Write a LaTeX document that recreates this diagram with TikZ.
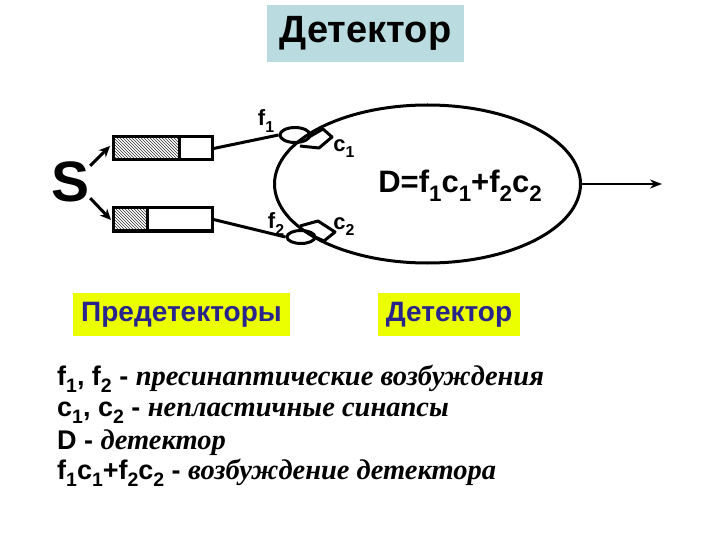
\documentclass[tikz,border=0pt]{standalone}
\usepackage{fontspec}
\usepackage{graphicx}
\setmainfont{Liberation Sans}
\newfontfamily\tmsfont{Liberation Serif}
\usetikzlibrary{patterns,arrows.meta,shapes.geometric}
\newcommand\subx[1]{\raisebox{-0.28em}{\scalebox{0.72}{#1}}}
\newcommand\itru[1]{{\tmsfont\itshape\fontsize{28.5}{30}\selectfont #1}}
\definecolor{titlebg}{RGB}{186,220,224}
\definecolor{ylw}{RGB}{236,255,0}
\definecolor{navy}{RGB}{40,36,140}
\tikzset{
  thick line/.style={line width=3pt},
  boxrect/.style={draw, line width=3pt, minimum width=99pt, minimum height=23pt, inner sep=0pt},
  synball/.style={draw, ellipse, line width=3pt, inner sep=0pt},
  sarrow/.style={line width=3pt, -{Stealth[length=11pt,width=10pt]}},
  lbl/.style={font=\bfseries\fontsize{22}{24}\selectfont, inner sep=0pt},
  tagbox/.style={fill=ylw, text=navy, font=\bfseries\fontsize{28}{30}\selectfont, inner sep=0pt},
  legend/.style={anchor=base west, inner sep=0pt, font=\bfseries\fontsize{27}{30}\selectfont},
}
\begin{document}
\begin{tikzpicture}[x=1pt,y=-1pt]
\useasboundingbox (0,0) rectangle (720,540);
% title
\node[fill=titlebg, minimum width=197pt, minimum height=57pt, inner sep=0pt,
      font=\bfseries\fontsize{38}{40}\selectfont] (title) at (365.5,33.5) {Детектор};
% S
\node[font=\bfseries\fontsize{57}{60}\selectfont, inner sep=0pt] (S) at (71,182) {S};
% predetector boxes
\fill[pattern=north west lines, pattern color=black!80] (113,137) rectangle (179,160);
\fill[pattern=north west lines, pattern color=black!80] (113,208) rectangle (147,231);
\node[boxrect] (r1) at (162.5,148.5) {};
\node[boxrect] (r2) at (162.5,219.5) {};
\draw[thick line] (179,137) -- (179,160);
\draw[thick line] (147,208) -- (147,231);
% arrows from S
\coordinate (a1) at (110,146);
\coordinate (a2) at (111,220);
\draw[sarrow] (S.40) -- (a1);
\draw[sarrow] (S.-40) -- (a2);
% detector ellipse
\node[draw, ellipse, line width=3pt, minimum width=306pt, minimum height=158pt, inner sep=0pt] (det) at (427.5,184) {};
\node[font=\bfseries\fontsize{31}{32}\selectfont, inner sep=0pt] (formula) at (460,186)
  {D=f\subx{1}c\subx{1}+f\subx{2}c\subx{2}};
\coordinate (out) at (662,184);
\draw[line width=2.4pt, -{Stealth[length=12pt,width=9pt]}] (det.east) -- (out);
% synapse endings
\node[synball, minimum width=30pt, minimum height=15pt] (s1) at (295,135) {};
\node[synball, minimum width=28pt, minimum height=13pt] (s2) at (301,237) {};
\draw[thick line] (r1.east) -- (s1.west);
\draw[thick line] (r2.east) -- (s2.west);
% synapses c1 c2
\draw[thick line, line join=round] (309,137) -- (323,129) -- (332,137) -- (319,148) -- (300,146);
\draw[thick line, line join=round] (300,226) -- (318,221) -- (335,232) -- (324,241) -- (313,236);
% labels
\node[lbl] (f1) at (266,121) {f\subx{1}};
\node[lbl] (c1) at (344,149) {c\subx{1}};
\node[lbl] (f2) at (276,224) {f\subx{2}};
\node[lbl] (c2) at (344,227) {c\subx{2}};
% tag boxes
\node[tagbox, minimum width=217pt, minimum height=43pt] (pre) at (181.5,314.5) {Предетекторы};
\node[tagbox, minimum width=142pt, minimum height=43pt] (dtag) at (449,314.5) {Детектор};
% legend
\node[legend] (l1) at (57,385) {f\subx{1}, f\subx{2} - \itru{пресинаптические возбуждения}};
\node[legend] (l2) at (57,416) {c\subx{1}, c\subx{2} - \itru{непластичные синапсы}};
\node[legend] (l3) at (57,449) {D - \itru{детектор}};
\node[legend] (l4) at (57,479) {f\subx{1}c\subx{1}+f\subx{2}c\subx{2} - \itru{возбуждение детектора}};
\end{tikzpicture}
\end{document}
